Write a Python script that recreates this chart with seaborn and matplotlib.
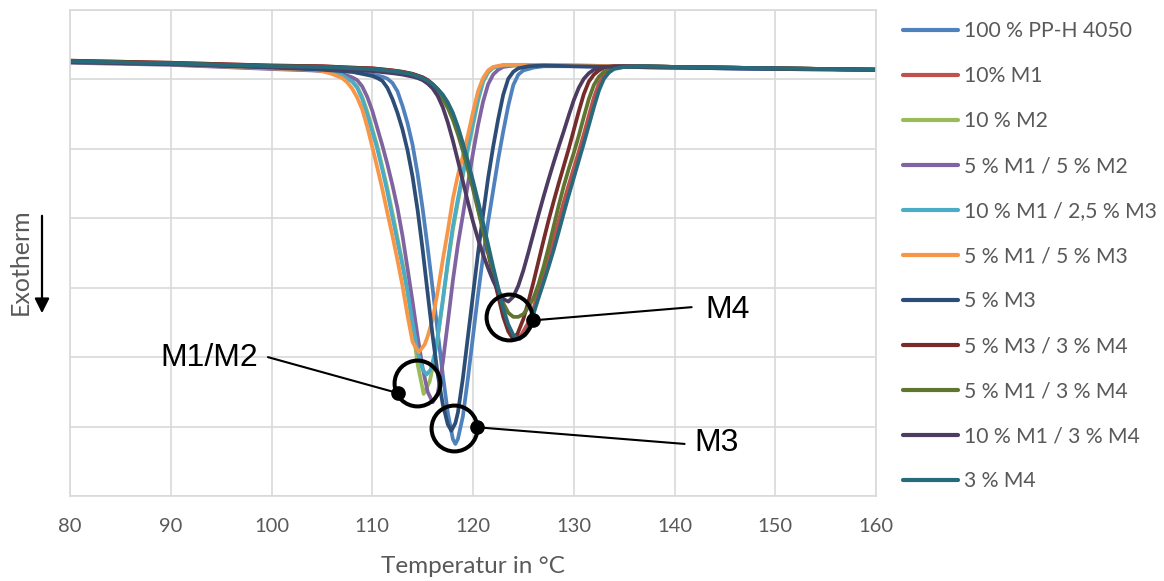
import matplotlib
matplotlib.use("Agg")
import matplotlib.pyplot as plt
import seaborn as sns
import pandas as pd

# ---------------- data ----------------
labels = ["100 % PP-H 4050", "10% M1", "10 % M2", "5 % M1 / 5 % M2",
          "10 % M1 / 2,5 % M3", "5 % M1 / 5 % M3", "5 % M3", "5 % M3 / 3 % M4",
          "5 % M1 / 3 % M4", "10 % M1 / 3 % M4", "3 % M4"]
colors = ["#4F81BD", "#C0504D", "#9BBB59", "#8064A2", "#4BACC6", "#F79646",
          "#2C4D75", "#772C2A", "#5F7530", "#4D3B62", "#276A7C"]

t_pp = [80, 90, 100, 105, 108, 110, 111, 111.5, 112, 112.5, 113, 113.5, 114, 114.5, 115, 115.5, 116, 116.5, 117, 117.5,
        118, 118.25, 118.5, 119, 119.5, 120, 120.5, 121, 121.5, 122, 122.5, 123, 123.5, 124, 124.5, 125, 126, 127, 130, 140, 150, 160]
v_pp = [-0.75, -0.78, -0.83, -0.86, -0.89, -0.93, -0.96, -0.99, -1.05, -1.17, -1.38, -1.63, -1.94, -2.36, -2.86, -3.42, -4.02, -4.64, -5.25, -5.8,
        -6.18, -6.25, -6.18, -5.85, -5.3, -4.7, -4.1, -3.55, -3.05, -2.6, -2.15, -1.75, -1.38, -1.08, -0.93, -0.87, -0.83, -0.81, -0.81, -0.83, -0.85, -0.86]

t_m1 = [80, 90, 100, 105, 108, 110, 112, 113, 114, 115, 115.5, 116, 116.5, 117, 117.5, 118, 118.5, 119, 119.5, 120,
        120.5, 121, 121.5, 122, 122.5, 123, 123.5, 124, 124.3, 124.8, 125.5, 126, 126.5, 127, 127.5, 128, 128.5, 129, 129.5, 130,
        130.5, 131, 131.5, 132, 132.5, 133, 133.5, 134, 135, 137, 140, 150, 160]
v_m1 = [-0.73, -0.76, -0.80, -0.81, -0.83, -0.84, -0.87, -0.89, -0.92, -0.97, -1.01, -1.07, -1.15, -1.24, -1.36, -1.52, -1.73, -1.98, -2.24, -2.52,
        -2.82, -3.14, -3.46, -3.77, -4.07, -4.35, -4.57, -4.7, -4.73, -4.68, -4.5, -4.3, -4.06, -3.82, -3.57, -3.31, -3.04, -2.77, -2.52, -2.28,
        -2.04, -1.79, -1.52, -1.26, -1.06, -0.94, -0.88, -0.84, -0.82, -0.81, -0.82, -0.84, -0.86]

t_m2 = [80, 90, 100, 104, 106, 107, 108, 108.5, 109, 109.5, 110, 110.5, 111, 111.5, 112, 112.5, 113, 113.5, 114, 114.5,
        115.1, 115.7, 116, 116.5, 117, 117.5, 118, 118.5, 119, 119.5, 120, 120.5, 121, 121.5, 122, 123, 125, 130, 140, 150, 160]
v_m2 = [-0.75, -0.78, -0.84, -0.85, -0.89, -0.94, -1.02, -1.1, -1.25, -1.46, -1.71, -1.96, -2.26, -2.57, -2.92, -3.28, -3.64, -4.05, -4.55, -5.1,
        -5.53, -5.35, -5.15, -4.72, -4.2, -3.66, -3.17, -2.77, -2.38, -2.01, -1.66, -1.31, -1.04, -0.9, -0.83, -0.8, -0.79, -0.8, -0.82, -0.84, -0.86]

t_m1m2 = [80, 90, 100, 104, 106, 107, 108, 108.5, 109, 109.5, 110, 110.5, 111, 111.5, 112, 112.5, 113, 113.5, 114, 114.5,
          115, 115.5, 116, 116.5, 117, 117.5, 118, 118.5, 119, 119.5, 120, 120.5, 121, 121.5, 122, 122.5, 123, 124, 126, 130, 140, 150, 160]
v_m1m2 = [-0.76, -0.79, -0.85, -0.87, -0.89, -0.92, -0.97, -1.01, -1.1, -1.25, -1.45, -1.7, -1.95, -2.22, -2.52, -2.85, -3.25, -3.72, -4.2, -4.7,
          -5.15, -5.5, -5.65, -5.52, -5.08, -4.5, -3.9, -3.38, -2.95, -2.5, -2.06, -1.66, -1.32, -1.07, -0.93, -0.86, -0.82, -0.8, -0.8, -0.81, -0.83, -0.85, -0.86]

t_m1m3a = [80, 90, 100, 104, 106, 107, 108, 108.5, 109, 109.5, 110, 110.5, 111, 111.5, 112, 112.5, 113, 113.5, 114, 114.5,
           115, 115.4, 115.8, 116.2, 116.5, 117, 117.5, 118, 118.5, 119, 119.5, 120, 120.5, 121, 121.5, 122, 123, 125, 130, 140, 150, 160]
v_m1m3a = [-0.75, -0.78, -0.84, -0.85, -0.89, -0.94, -1.03, -1.12, -1.28, -1.5, -1.75, -2.0, -2.3, -2.62, -2.98, -3.33, -3.68, -4.05, -4.5, -4.92,
           -5.18, -5.25, -5.18, -4.95, -4.7, -4.18, -3.62, -3.12, -2.72, -2.35, -1.98, -1.62, -1.28, -1.02, -0.89, -0.83, -0.8, -0.79, -0.8, -0.82, -0.84, -0.86]

t_m1m3b = [80, 90, 100, 104, 105, 106, 107, 107.5, 108, 108.5, 109, 109.5, 110, 110.5, 111, 111.5, 112, 112.5, 113, 113.5,
           114, 114.6, 115.2, 115.5, 116, 116.5, 117, 117.5, 118, 118.5, 119, 119.5, 120, 120.5, 121, 121.5, 122, 123, 125, 130, 140, 150, 160]
v_m1m3b = [-0.75, -0.78, -0.84, -0.86, -0.88, -0.92, -0.98, -1.04, -1.13, -1.26, -1.43, -1.68, -1.97, -2.27, -2.58, -2.92, -3.25, -3.6, -3.97, -4.4,
           -4.78, -4.93, -4.82, -4.7, -4.45, -4.05, -3.6, -3.18, -2.72, -2.38, -2.1, -1.8, -1.47, -1.17, -0.98, -0.87, -0.82, -0.79, -0.79, -0.8, -0.82, -0.84, -0.86]

t_m3 = [80, 90, 100, 105, 108, 109, 110, 110.5, 111, 111.5, 112, 112.5, 113, 113.5, 114, 114.5, 115, 115.5, 116, 116.5,
        117, 117.5, 117.85, 118.25, 118.5, 119, 119.5, 120, 120.5, 121, 121.5, 122, 122.5, 123, 123.5, 124, 124.5, 125.5, 127, 130, 140, 150, 160]
v_m3 = [-0.75, -0.78, -0.83, -0.86, -0.89, -0.92, -0.95, -0.98, -1.02, -1.12, -1.28, -1.48, -1.72, -2.02, -2.4, -2.88, -3.45, -4.08, -4.7, -5.25,
        -5.68, -5.97, -6.06, -5.95, -5.8, -5.3, -4.7, -4.1, -3.5, -2.95, -2.42, -1.97, -1.57, -1.22, -0.99, -0.89, -0.84, -0.81, -0.80, -0.81, -0.83, -0.85, -0.86]

t_m3m4 = [80, 90, 100, 105, 108, 110, 112, 113, 114, 115, 115.5, 116, 116.5, 117, 117.5, 118, 118.5, 119, 119.5, 120,
          120.5, 121, 121.5, 122, 122.5, 123, 123.5, 123.9, 124.4, 125, 125.5, 126, 126.5, 127, 127.5, 128, 128.5, 129, 129.5, 130,
          130.5, 131, 131.5, 132, 132.5, 133, 134, 136, 140, 150, 160]
v_m3m4 = [-0.73, -0.76, -0.80, -0.81, -0.83, -0.84, -0.87, -0.89, -0.92, -0.97, -1.01, -1.07, -1.14, -1.23, -1.36, -1.52, -1.73, -1.98, -2.25, -2.54,
          -2.85, -3.17, -3.5, -3.82, -4.12, -4.42, -4.63, -4.72, -4.67, -4.45, -4.2, -3.92, -3.62, -3.32, -3.03, -2.76, -2.5, -2.25, -2.0, -1.73,
          -1.46, -1.21, -1.03, -0.93, -0.87, -0.83, -0.81, -0.81, -0.82, -0.84, -0.86]

t_m1m4a = [80, 90, 100, 105, 108, 110, 112, 113, 114, 115, 115.5, 116, 116.5, 117, 117.5, 118, 118.5, 119, 119.5, 120,
           120.5, 121, 121.5, 122, 122.5, 123, 123.5, 124, 124.5, 125, 125.5, 126, 126.5, 127, 127.5, 128, 128.5, 129, 129.5, 130,
           130.5, 131, 131.5, 132, 132.5, 133, 133.5, 134.5, 136, 140, 150, 160]
v_m1m4a = [-0.74, -0.77, -0.81, -0.82, -0.84, -0.85, -0.88, -0.9, -0.93, -0.99, -1.04, -1.1, -1.18, -1.28, -1.41, -1.58, -1.79, -2.03, -2.3, -2.58,
           -2.88, -3.18, -3.48, -3.76, -4.02, -4.22, -4.36, -4.42, -4.42, -4.38, -4.28, -4.15, -3.95, -3.7, -3.42, -3.12, -2.82, -2.54, -2.29, -2.06,
           -1.81, -1.54, -1.28, -1.08, -0.96, -0.89, -0.85, -0.82, -0.81, -0.82, -0.84, -0.86]

t_m1m4b = [80, 90, 100, 105, 108, 110, 112, 113, 114, 114.5, 115, 115.5, 116, 116.5, 117, 117.5, 118, 118.5, 119, 119.5,
           120, 120.5, 121, 121.5, 122, 122.5, 123, 123.5, 124, 124.5, 125, 125.5, 126, 126.5, 127, 127.5, 128, 128.5, 129, 129.5,
           130, 130.5, 131, 131.5, 132, 133, 135, 140, 150, 160]
v_m1m4b = [-0.75, -0.78, -0.82, -0.84, -0.86, -0.88, -0.91, -0.93, -0.96, -0.98, -1.01, -1.06, -1.13, -1.24, -1.4, -1.62, -1.88, -2.17, -2.47, -2.77,
           -3.05, -3.3, -3.52, -3.72, -3.9, -4.05, -4.16, -4.2, -4.13, -3.97, -3.75, -3.49, -3.22, -2.95, -2.69, -2.44, -2.2, -1.97, -1.75, -1.52,
           -1.3, -1.12, -0.99, -0.91, -0.86, -0.82, -0.81, -0.82, -0.84, -0.86]

t_m4 = [80, 90, 100, 105, 108, 110, 112, 113, 114, 115, 115.5, 116, 116.5, 117, 117.5, 118, 118.5, 119, 119.5, 120,
        120.5, 121, 121.5, 122, 122.5, 123, 123.5, 124, 124.6, 125.2, 125.5, 126, 126.5, 127, 127.5, 128, 128.5, 129, 129.5, 130,
        130.5, 131, 131.5, 132, 132.5, 133, 133.5, 134, 135, 137, 140, 150, 160]
v_m4 = [-0.74, -0.77, -0.81, -0.82, -0.84, -0.85, -0.88, -0.9, -0.93, -0.98, -1.02, -1.07, -1.14, -1.22, -1.33, -1.48, -1.68, -1.92, -2.18, -2.46,
        -2.75, -3.06, -3.38, -3.7, -4.0, -4.3, -4.53, -4.68, -4.74, -4.68, -4.58, -4.38, -4.15, -3.93, -3.7, -3.46, -3.2, -2.93, -2.67, -2.42,
        -2.17, -1.92, -1.66, -1.4, -1.16, -0.99, -0.9, -0.85, -0.82, -0.81, -0.82, -0.84, -0.86]

series_t = [t_pp, t_m1, t_m2, t_m1m2, t_m1m3a, t_m1m3b, t_m3, t_m3m4, t_m1m4a, t_m1m4b, t_m4]
series_v = [v_pp, v_m1, v_m2, v_m1m2, v_m1m3a, v_m1m3b, v_m3, v_m3m4, v_m1m4a, v_m1m4b, v_m4]

x_ticks = [80, 90, 100, 110, 120, 130, 140, 150, 160]
x_label = "Temperatur in °C"
y_label = "Exotherm"

# ---------------- frame ----------------
frames = []
for lab, t, v in zip(labels, series_t, series_v):
    frames.append(pd.DataFrame({"T": t, "v": v, "Probe": lab}))
df = pd.concat(frames, ignore_index=True)

sns.set_theme(style="white")
plt.rcParams["font.family"] = ["Lato", "DejaVu Sans"]

GRAY = "#595959"
GRID = "#D9D9D9"

fig = plt.figure(figsize=(11.64, 5.81), dpi=100)
ax = fig.add_axes([70 / 1164, 1 - 496 / 581, 806 / 1164, 486 / 581])

sns.lineplot(data=df, x="T", y="v", hue="Probe", hue_order=labels,
             palette=colors, sort=False, estimator=None, lw=2.7, ax=ax)
for ln in ax.get_lines():
    ln.set_solid_joinstyle("round")
    ln.set_solid_capstyle("round")

ax.set_xlim(80, 160)
ax.set_ylim(-7, 0)
ax.set_xticks(x_ticks)
ax.set_yticks(range(-7, 1))
ax.set_yticklabels([])
ax.grid(True, color=GRID, lw=1.2)
ax.set_axisbelow(True)
for s in ax.spines.values():
    s.set_color(GRID)
    s.set_linewidth(1.2)
ax.tick_params(axis="both", length=0)
ax.tick_params(axis="x", labelsize=14.5, labelcolor=GRAY, pad=16)
ax.set_xlabel(x_label, fontsize=17.5, color=GRAY, labelpad=15)
ax.set_ylabel("")

# Exotherm label and arrow
fig.text(20 / 1164, 1 - 262 / 581, y_label, rotation=90, ha="center", va="center",
         fontsize=18, color=GRAY)
ax.annotate("", xy=(42 / 1164, 1 - 316 / 581), xytext=(42 / 1164, 1 - 213 / 581),
            xycoords="figure fraction", textcoords="figure fraction",
            arrowprops=dict(arrowstyle="-|>", color="black", lw=1.6, mutation_scale=22),
            annotation_clip=False)

# Annotations: circle, dot, connector, label
annots = [
    # circle center, dot, line end, text pos, text, ha
    ((123.6, -4.42), (126.0, -4.47), (141.7, -4.28), (143.1, -4.32), "M4", "left"),
    ((114.4, -5.37), (112.6, -5.52), (99.65, -5.00), (98.66, -5.01), "M1/M2", "right"),
    ((118.1, -6.02), (120.4, -6.01), (141.0, -6.25), (142.0, -6.24), "M3", "left"),
]
for c, d, e, tp, txt, ha in annots:
    ax.plot([c[0]], [c[1]], marker="o", markersize=33, mfc="none", mec="black", mew=2.9, zorder=20)
    ax.plot([d[0], e[0]], [d[1], e[1]], color="black", lw=1.5, zorder=20)
    ax.plot([d[0]], [d[1]], marker="o", markersize=9.5, color="black", zorder=21)
    ax.text(tp[0], tp[1], txt, ha=ha, va="center", fontsize=23, color="black",
            family=["Liberation Sans", "DejaVu Sans"], zorder=22)

# Legend
handles, lbls = ax.get_legend_handles_labels()
leg = ax.legend(handles, lbls, loc="upper left", bbox_to_anchor=(903 / 1164, 1 - 21 / 581),
                bbox_transform=fig.transFigure, frameon=False, fontsize=15.2,
                handlelength=2.62, handletextpad=0.25, labelspacing=1.185,
                borderpad=0, borderaxespad=0)
for txt in leg.get_texts():
    txt.set_color(GRAY)
for line in leg.get_lines():
    line.set_linewidth(3)

fig.savefig("out.png", dpi=100)
